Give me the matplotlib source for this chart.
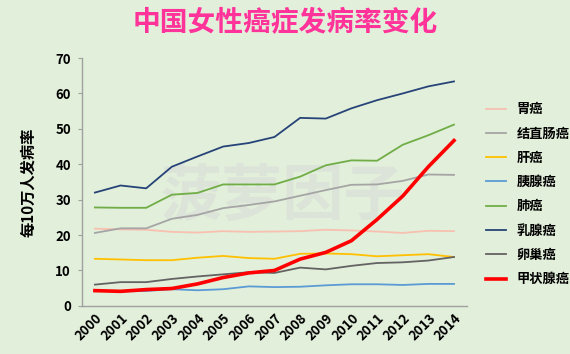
import matplotlib.pyplot as plt

plt.rcParams['font.family'] = ['Noto Sans CJK SC', 'DejaVu Sans']

years = list(range(2000, 2015))

# 每10万人发病率
stomach = [21.8, 21.6, 21.5, 20.9, 20.7, 21.1, 20.9, 21.0, 21.1, 21.5, 21.3, 21.0, 20.6, 21.2, 21.1]
colorectal = [20.6, 21.9, 21.9, 24.6, 25.7, 27.6, 28.5, 29.5, 31.1, 32.7, 34.2, 34.3, 35.3, 37.1, 37.0]
liver = [13.3, 13.1, 12.9, 12.9, 13.6, 14.1, 13.5, 13.3, 14.7, 14.8, 14.6, 14.0, 14.3, 14.6, 13.8]
pancreas = [4.3, 4.1, 4.2, 4.7, 4.4, 4.7, 5.5, 5.3, 5.4, 5.8, 6.1, 6.1, 5.9, 6.2, 6.2]
lung = [27.8, 27.7, 27.7, 31.4, 31.9, 34.3, 34.3, 34.3, 36.5, 39.7, 41.1, 41.0, 45.5, 48.2, 51.2]
breast = [32.0, 34.0, 33.2, 39.3, 42.2, 45.0, 46.0, 47.7, 53.1, 52.9, 55.8, 58.1, 60.0, 62.0, 63.4]
ovary = [6.0, 6.7, 6.7, 7.6, 8.3, 8.9, 9.5, 9.3, 10.8, 10.3, 11.3, 12.1, 12.3, 12.8, 13.8]
thyroid = [4.3, 4.1, 4.6, 4.9, 6.2, 8.0, 9.3, 10.0, 13.2, 15.1, 18.4, 24.4, 31.0, 39.3, 46.7]

series = [
    ('胃癌', stomach, '#f8c0b0', 1.3),
    ('结直肠癌', colorectal, '#a5a5a5', 1.3),
    ('肝癌', liver, '#ffc000', 1.3),
    ('胰腺癌', pancreas, '#5b9bd5', 1.3),
    ('肺癌', lung, '#70ad47', 1.3),
    ('乳腺癌', breast, '#264478', 1.3),
    ('卵巢癌', ovary, '#636363', 1.3),
    ('甲状腺癌', thyroid, '#ff0000', 2.6),
]

bg = '#e2efda'
fig = plt.figure(figsize=(5.7, 3.54), dpi=100, facecolor=bg)
ax = fig.add_axes([0.144, 0.136, 0.675, 0.70])
ax.set_facecolor(bg)

# 水印
ax.text(0.52, 0.44, '菠萝因子', transform=ax.transAxes, fontsize=44, fontweight='bold',
        color='#d6d6d6', alpha=0.45, ha='center', va='center', zorder=0)

for name, vals, color, lw in series:
    ax.plot(years, vals, color=color, lw=lw, label=name, zorder=3)

ax.set_xlim(1999.5, 2014.5)
ax.set_ylim(0, 70)
ax.set_yticks(range(0, 71, 10))
ax.set_xticks(years)
ax.set_xticklabels([str(y) for y in years], rotation=45, ha='right', rotation_mode='anchor',
                   fontsize=9.5, fontweight='bold')
for lab in ax.get_yticklabels():
    lab.set_fontweight('bold')
    lab.set_fontsize(9.5)
ax.tick_params(axis='x', length=0, pad=4)
ax.tick_params(axis='y', length=3, color='#a0a0a0', pad=5)
for s in ['top', 'right']:
    ax.spines[s].set_visible(False)
for s in ['left', 'bottom']:
    ax.spines[s].set_color('#a0a0a0')
    ax.spines[s].set_linewidth(1)

ax.set_ylabel('每10万人发病率', fontsize=11, fontweight='bold', labelpad=14)

leg = ax.legend(loc='upper left', bbox_to_anchor=(1.02, 0.87), frameon=False,
                handlelength=1.5, labelspacing=0.78, prop={'weight': 'bold', 'size': 9.5})

fig.text(0.5, 0.935, '中国女性癌症发病率变化', fontsize=20, fontweight='heavy',
         color='#ff3399', ha='center', va='center')

fig.savefig('out.png', dpi=100, facecolor=bg)
